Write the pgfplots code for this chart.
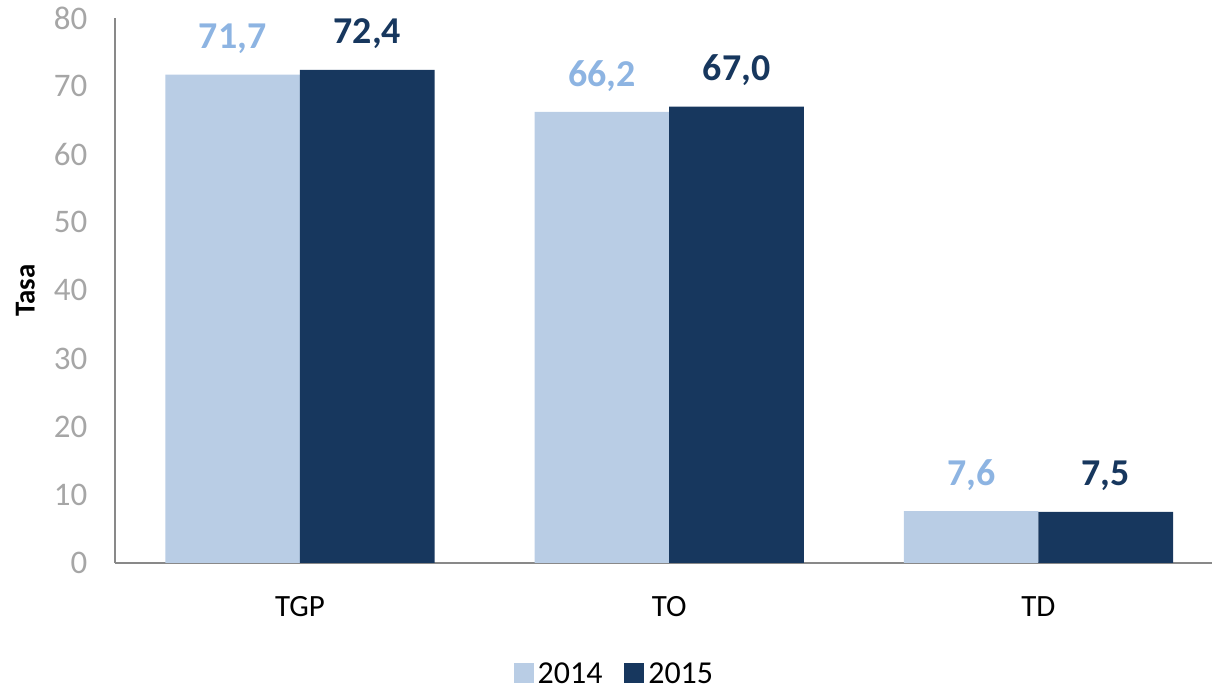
\documentclass[border=0pt]{standalone}
\usepackage{fontspec}
\setmainfont{Carlito}
\usepackage{pgfplots}
\pgfplotsset{compat=1.18}
\definecolor{lightbar}{HTML}{B9CDE5}
\definecolor{darkbar}{HTML}{17375E}
\definecolor{lightlab}{HTML}{8DB4E2}
\definecolor{ticktext}{HTML}{A6A6A6}
\definecolor{axisgray}{HTML}{898989}
\begin{document}
\begin{tikzpicture}
\begin{axis}[
  scale only axis,
  width=549.5pt, height=273pt,
  ybar, bar width=67.5pt,
  xmin=-0.5, xmax=2.47, ymin=0, ymax=80,
  xtick={0,1,2}, xticklabels={TGP,TO,TD},
  ytick={0,10,...,80},
  major tick length=0pt,
  axis x line*=bottom, axis y line*=left,
  axis line style={axisgray, line width=1pt, -},
  /pgf/number format/assume math mode=true,
  yticklabel style={font=\fontsize{16.5}{19}\selectfont, text=ticktext, xshift=-10.5pt},
  xticklabel style={font=\fontsize{15.5}{18}\selectfont, text=black, anchor=base, yshift=-27pt},
  ylabel={\bfseries Tasa},
  ylabel style={font=\fontsize{14.5}{17}\selectfont, at={(axis description cs:-0.082,0.5)}, anchor=center, inner sep=8pt},
  nodes near coords={\pgfmathprintnumber[fixed, fixed zerofill, precision=1, use comma]{\pgfplotspointmeta}},
  nodes near coords style={font=\fontsize{19}{22}\selectfont\bfseries, anchor=base, inner sep=0pt, yshift=13pt},
  legend columns=2,
  legend style={draw=none, at={(0.456,-0.205)}, anchor=center, font=\fontsize{16}{19}\selectfont,
    /tikz/every even column/.append style={column sep=9pt}},
  legend image code/.code={\fill[#1] (-3pt,-4pt) rectangle (7pt,6pt);},
]
\addplot[fill=lightbar, draw=none, bar shift=-33.75pt, nodes near coords style={text=lightlab}] coordinates {(0,71.7) (1,66.2) (2,7.6)};
\addplot[fill=darkbar, draw=none, bar shift=33.75pt, nodes near coords style={text=darkbar}] coordinates {(0,72.4) (1,67.0) (2,7.5)};
\legend{2014,2015}
\end{axis}
\end{tikzpicture}
\end{document}
